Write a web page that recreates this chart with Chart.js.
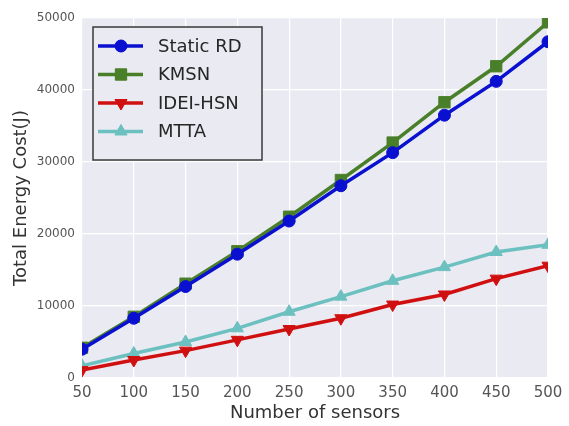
<!DOCTYPE html>
<html lang="en">
<head>
    <meta charset="UTF-8">
    <title>Total Energy Cost</title>
    <script src="https://cdn.jsdelivr.net/npm/chart.js"></script>
    <style>
        html, body {
            margin: 0;
            padding: 0;
            background: #ffffff;
        }

        #wrap {
            width: 569px;
            height: 426px;
        }
    </style>
</head>
<body>
<div id="wrap"><canvas id="energyChart" width="569" height="426"></canvas></div>

<script>
  const sensors = [50, 100, 150, 200, 250, 300, 350, 400, 450, 500];
  const staticRD = [4000, 8300, 12700, 17200, 21800, 26700, 31300, 36500, 41200, 46700];
  const kmsn = [4200, 8500, 13100, 17600, 22400, 27500, 32700, 38300, 43300, 49400];
  const ideiHsn = [1100, 2500, 3800, 5300, 6800, 8300, 10200, 11600, 13800, 15600];
  const mtta = [1700, 3400, 5000, 6900, 9200, 11300, 13500, 15400, 17500, 18500];
  const yTicks = [0, 10000, 20000, 30000, 40000, 50000];

  function series(label, values, color, style, radius, rotation) {
    return {
      label: label,
      data: values.map((v, i) => ({ x: sensors[i], y: v })),
      borderColor: color,
      backgroundColor: color,
      borderWidth: 3.5,
      pointStyle: style,
      pointRadius: radius,
      pointRotation: rotation || 0,
      pointBorderWidth: 1,
      tension: 0
    };
  }

  // plot background, like the seaborn "darkgrid" style
  const plotBg = {
    id: 'plotBg',
    beforeDraw(chart) {
      const { ctx, chartArea: a } = chart;
      ctx.save();
      ctx.fillStyle = '#eaeaf2';
      ctx.fillRect(a.left, a.top, a.right - a.left, a.bottom - a.top);
      ctx.restore();
    }
  };

  // legend drawn inside the plot, top left
  const innerLegend = {
    id: 'innerLegend',
    afterDraw(chart) {
      const ctx = chart.ctx;
      const x0 = 93, y0 = 27, w = 169, h = 133;
      ctx.save();
      ctx.fillStyle = '#eaeaf2';
      ctx.fillRect(x0, y0, w, h);
      ctx.strokeStyle = '#3a3a3a';
      ctx.lineWidth = 1.5;
      ctx.strokeRect(x0, y0, w, h);
      chart.data.datasets.forEach((ds, i) => {
        const y = 46 + i * 28.5;
        ctx.strokeStyle = ds.borderColor;
        ctx.lineWidth = 3.5;
        ctx.beginPath();
        ctx.moveTo(98, y);
        ctx.lineTo(143, y);
        ctx.stroke();
        ctx.fillStyle = ds.backgroundColor;
        ctx.lineWidth = 1;
        Chart.helpers.drawPoint(ctx, { pointStyle: ds.pointStyle, radius: ds.pointRadius, rotation: ds.pointRotation, borderWidth: 1 }, 121, y);
        ctx.fill();
        ctx.fillStyle = '#262626';
        ctx.font = '18px "DejaVu Sans", sans-serif';
        ctx.textBaseline = 'middle';
        ctx.textAlign = 'left';
        ctx.fillText(ds.label, 158, y + 1);
      });
      ctx.restore();
    }
  };

  const ctx = document.getElementById('energyChart').getContext('2d');
  new Chart(ctx, {
    type: 'line',
    data: {
      datasets: [
        series('Static RD', staticRD, '#0a10d0', 'circle', 6),
        series('KMSN', kmsn, '#4a7f2a', 'rect', 8),
        series('IDEI-HSN', ideiHsn, '#d01010', 'triangle', 7, 180),
        series('MTTA', mtta, '#6cc0c0', 'triangle', 7)
      ]
    },
    options: {
      responsive: false,
      animation: false,
      layout: { padding: { top: 18, right: 21, left: 0, bottom: 0 } },
      plugins: {
        legend: { display: false },
        tooltip: { enabled: false }
      },
      scales: {
        x: {
          type: 'linear',
          min: 50,
          max: 500,
          afterFit: s => { s.height = 48; },
          afterBuildTicks: s => { s.ticks = sensors.map(v => ({ value: v })); },
          grid: { color: '#ffffff', lineWidth: 1.2, drawTicks: false },
          border: { display: false },
          ticks: { color: '#555555', font: { size: 15, family: '"DejaVu Sans", sans-serif' }, padding: 6, maxRotation: 0 },
          title: { display: true, text: 'Number of sensors', color: '#333333', font: { size: 18, family: '"DejaVu Sans", sans-serif' }, padding: { top: 0, bottom: 2 } }
        },
        y: {
          min: 0,
          max: 50000,
          afterFit: s => { s.width = 82; },
          afterBuildTicks: s => { s.ticks = yTicks.map(v => ({ value: v })); },
          grid: { color: '#ffffff', lineWidth: 1.2, drawTicks: false },
          border: { display: false },
          ticks: {
            color: '#555555',
            font: { size: 12, family: '"DejaVu Sans", sans-serif' },
            padding: 7,
            callback: v => String(v)
          },
          title: { display: true, text: 'Total Energy Cost(J)', color: '#333333', font: { size: 18, family: '"DejaVu Sans", sans-serif' }, padding: { top: 11, bottom: 0 } }
        }
      }
    },
    plugins: [plotBg, innerLegend]
  });
</script>
</body>
</html>
